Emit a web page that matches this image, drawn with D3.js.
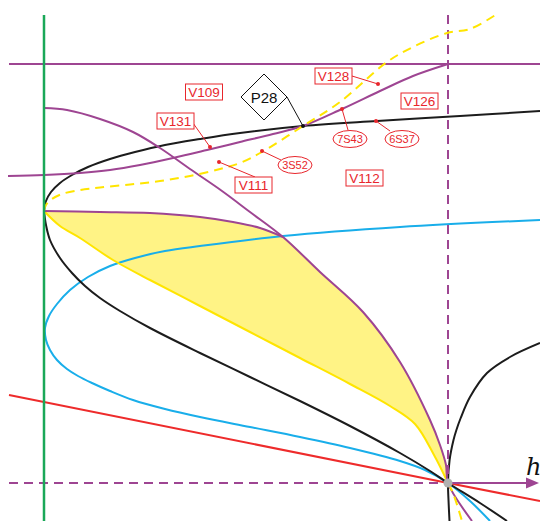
<!DOCTYPE html>
<html><head><meta charset="utf-8">
<script src="https://cdn.jsdelivr.net/npm/d3@7"></script>
<style>html,body{margin:0;padding:0;background:#fff;}svg{display:block;}</style>
</head><body>
<svg id="chart" width="540" height="521"></svg>
<script>
// ---- data (h, v) in diagram units ----
const blackUpper = [[-4.04,2.72],[-4.02,2.82],[-3.97,2.91],[-3.88,3.00],[-3.76,3.08],[-3.60,3.16],[-3.38,3.24],[-3.13,3.31],[-2.83,3.38],[-2.48,3.44],[-2.08,3.50],[-1.45,3.57],[-0.71,3.62],[0.12,3.67],[0.92,3.72]];
const blackLower = [[-4.04,2.72],[-4.02,2.58],[-3.98,2.43],[-3.88,2.25],[-3.76,2.10],[-3.63,1.97],[-3.48,1.85],[-3.28,1.72],[-2.98,1.55],[-2.48,1.30],[-1.98,1.06],[-1.48,0.82],[-0.98,0.57],[-0.48,0.30],[-0.18,0.12],[0,0],[0.32,-0.20],[0.59,-0.38]];
const blackRight = [[0.015,-0.38],[0.005,-0.17],[0,0],[0.016,0.23],[0.055,0.43],[0.084,0.53],[0.127,0.65],[0.22,0.86],[0.39,1.10],[0.62,1.26],[0.92,1.40]];
const blueCurve = [[0.92,2.63],[-0.48,2.56],[-1.65,2.47],[-2.48,2.37],[-2.83,2.32],[-3.13,2.25],[-3.38,2.17],[-3.60,2.06],[-3.78,1.93],[-3.91,1.79],[-3.99,1.67],[-4.03,1.55],[-4.02,1.43],[-3.98,1.33],[-3.91,1.23],[-3.81,1.14],[-3.70,1.07],[-3.56,1.00],[-3.38,0.92],[-3.15,0.83],[-2.83,0.74],[-2.48,0.66],[-1.98,0.56],[-1.48,0.46],[-0.98,0.35],[-0.48,0.22],[-0.23,0.13],[0,0],[0.22,-0.18],[0.42,-0.38]];
const redLine = [[-4.39,0.88],[0,0],[0.92,-0.18]];
const yellowDashUpper = [[-4.04,2.72],[-4.02,2.78],[-3.96,2.84],[-3.86,2.89],[-3.68,2.93],[-3.48,2.955],[-3.18,2.985],[-2.88,3.02],[-2.58,3.07],[-2.28,3.14],[-2.08,3.20],[-1.86,3.31],[-1.45,3.57],[-1.08,3.81],[-0.61,4.21],[-0.35,4.36],[-0.01,4.50],[0.22,4.54],[0.49,4.69]];
const yellowDashLower = [[0,0],[0.05,-0.10],[0.14,-0.38]];
const yellowSolid = [[-4.04,2.72],[-3.88,2.57],[-3.68,2.45],[-3.35,2.23],[-2.98,2.03],[-2.48,1.77],[-1.98,1.51],[-1.48,1.25],[-0.98,0.99],[-0.58,0.77],[-0.33,0.59],[-0.14,0.28],[0,0]];
const purpleS = [[-4.40,3.07],[-4.04,3.08],[-3.68,3.10],[-3.38,3.13],[-3.08,3.18],[-2.75,3.25],[-2.41,3.33],[-2.08,3.41],[-1.75,3.49],[-1.45,3.57],[-1.06,3.74],[-0.68,3.92],[-0.35,4.07],[0,4.19]];
const purpleDesc = [[-4.04,3.75],[-3.81,3.73],[-3.48,3.64],[-3.15,3.51],[-2.88,3.35],[-2.58,3.14],[-2.26,2.92],[-1.98,2.71],[-1.65,2.46],[-1.28,2.11],[-0.85,1.71],[-0.48,1.21],[-0.18,0.63],[-0.08,0.38],[-0.02,0.18],[0,0],[0.24,-0.38]];
const purpleTop = [[-4.04,2.72],[-3.48,2.71],[-2.98,2.70],[-2.48,2.66],[-2.15,2.61],[-1.88,2.55],[-1.65,2.46]];
const purpleHLine = [[-4.39,4.19],[0.92,4.19]];
const greenLine = [[-4.04,4.68],[-4.04,-0.38]];
const vDash = [[0,4.68],[0,0]];
const hDash = [[-4.39,0],[0,0]];
const hAxis = [[0,0],[0.92,0]];
const axisLabel = "h";

// annotations: text, label centre, leader start, dot
const boxLabels = [
  {t:"V109", c:[-2.44,3.91]},
  {t:"V131", c:[-2.725,3.62], from:[-2.55,3.60], dot:[-2.38,3.36]},
  {t:"V111", c:[-1.945,2.98], from:[-1.93,3.06], dot:[-2.29,3.21]},
  {t:"V128", c:[-1.145,4.07], from:[-0.96,4.07], dot:[-0.70,3.99]},
  {t:"V126", c:[-0.285,3.82]},
  {t:"V112", c:[-0.835,3.05]}
];
const ovalLabels = [
  {t:"3S52", c:[-1.53,3.18], from:[-1.67,3.23], dot:[-1.86,3.32]},
  {t:"7S43", c:[-0.98,3.44], from:[-1.00,3.53], dot:[-1.06,3.74]},
  {t:"6S37", c:[-0.46,3.44], from:[-0.58,3.52], dot:[-0.72,3.62]}
];
const diamondLabels = [
  {t:"P28", c:[-1.84,3.86], from:[-1.61,3.86], dot:[-1.45,3.57]}
];

// ---- drawing ----
const svg = d3.select("#chart");
const x = d3.scaleLinear().domain([-4.48, 0.92]).range([0, 540]);
const y = d3.scaleLinear().domain([-0.38, 4.83]).range([521, 0]);
const line = d3.line().x(d=>x(d[0])).y(d=>y(d[1])).curve(d3.curveCatmullRom.alpha(0.5));
const lin = d3.line().x(d=>x(d[0])).y(d=>y(d[1]));

const C = {purple:"#9e4592", black:"#1c1c1c", blue:"#19aeea", red:"#ee2b2b", green:"#1aa858", yellow:"#ffe500", fill:"#fff385", lab:"#e8262c"};

// yellow region: purpleTop -> purpleDesc (junction to origin) -> yellowSolid reversed
const descFromJunction = purpleDesc.filter(d => d[0] >= -1.65 && d[0] <= 0);
const region = purpleTop.concat(descFromJunction.slice(1), yellowSolid.slice().reverse().slice(1));
svg.append("path").attr("d", line(region) + "Z").attr("fill", C.fill).attr("stroke","none");

function stroke(data, color, w, dash, curved=true){
  const p = svg.append("path").attr("d", (curved?line:lin)(data)).attr("fill","none")
    .attr("stroke", color).attr("stroke-width", w).attr("stroke-linejoin","round");
  if (dash) p.attr("stroke-dasharray", dash);
  return p;
}
stroke(redLine, C.red, 2, null, false);
stroke(blueCurve, C.blue, 2);
stroke(blackUpper, C.black, 2);
stroke(blackLower, C.black, 2);
stroke(blackRight, C.black, 2);
stroke(yellowSolid, C.yellow, 2);
stroke(purpleHLine, C.purple, 2, null, false);
stroke(purpleS, C.purple, 2);
stroke(purpleTop, C.purple, 2);
stroke(purpleDesc, C.purple, 2);
stroke(vDash, C.purple, 2, "9,6", false);
stroke(hDash, C.purple, 2, "9,6", false);
stroke(yellowDashUpper, C.yellow, 2, "9,6");
stroke(yellowDashLower, C.yellow, 2, "9,6");
stroke(greenLine, C.green, 2.5, null, false);

// h axis with arrow
svg.append("line").attr("x1", x(hAxis[0][0])).attr("y1", y(hAxis[0][1]))
  .attr("x2", x(hAxis[1][0]) - 10).attr("y2", y(hAxis[1][1]))
  .attr("stroke", C.purple).attr("stroke-width", 2);
const ax = x(hAxis[1][0]) - 1, ay = y(hAxis[1][1]);
svg.append("path").attr("d", `M${ax},${ay} L${ax-13},${ay-5.5} L${ax-13},${ay+5.5} Z`).attr("fill", C.purple);
svg.append("text").attr("x", x(hAxis[1][0]) - 14).attr("y", ay - 8)
  .attr("font-family","DejaVu Serif, Liberation Serif, serif").attr("font-style","italic")
  .attr("font-size", 24).attr("fill","#111").text(axisLabel);

// origin point
svg.append("circle").attr("cx", x(0)).attr("cy", y(0)).attr("r", 4.5).attr("fill", "#b0b0b0");

// annotations
const font = "Liberation Sans, Arial, sans-serif";
function leader(a, color){
  if (!a.dot) return;
  svg.append("line").attr("x1", x(a.from[0])).attr("y1", y(a.from[1]))
    .attr("x2", x(a.dot[0])).attr("y2", y(a.dot[1])).attr("stroke", color).attr("stroke-width", 1);
}
function dot(a, color){
  if (!a.dot) return;
  svg.append("circle").attr("cx", x(a.dot[0])).attr("cy", y(a.dot[1])).attr("r", 2).attr("fill", color);
}
boxLabels.forEach(a => {
  leader(a, C.lab);
  const cx = x(a.c[0]), cy = y(a.c[1]);
  svg.append("rect").attr("x", cx-18.5).attr("y", cy-8).attr("width", 37).attr("height", 16)
    .attr("fill","#fff").attr("stroke", C.lab).attr("stroke-width", 1);
  svg.append("text").attr("x", cx).attr("y", cy+5).attr("text-anchor","middle")
    .attr("font-family", font).attr("font-size", 13.5).attr("fill", C.lab).text(a.t);
  dot(a, C.lab);
});
ovalLabels.forEach(a => {
  leader(a, C.lab);
  const cx = x(a.c[0]), cy = y(a.c[1]);
  svg.append("ellipse").attr("cx", cx).attr("cy", cy).attr("rx", 17).attr("ry", 8.5)
    .attr("fill","#fff").attr("stroke", C.lab).attr("stroke-width", 1);
  svg.append("text").attr("x", cx).attr("y", cy+4).attr("text-anchor","middle")
    .attr("font-family", font).attr("font-size", 11).attr("fill", C.lab).text(a.t);
  dot(a, C.lab);
});
diamondLabels.forEach(a => {
  leader(a, "#111");
  const cx = x(a.c[0]), cy = y(a.c[1]);
  svg.append("path").attr("d", `M${cx-23},${cy} L${cx},${cy-23} L${cx+23},${cy} L${cx},${cy+23} Z`)
    .attr("fill","#fff").attr("stroke","#111").attr("stroke-width", 1);
  svg.append("text").attr("x", cx).attr("y", cy+5.5).attr("text-anchor","middle")
    .attr("font-family", font).attr("font-size", 15).attr("fill","#111").text(a.t);
  dot(a, "#111");
});
</script>
</body></html>
